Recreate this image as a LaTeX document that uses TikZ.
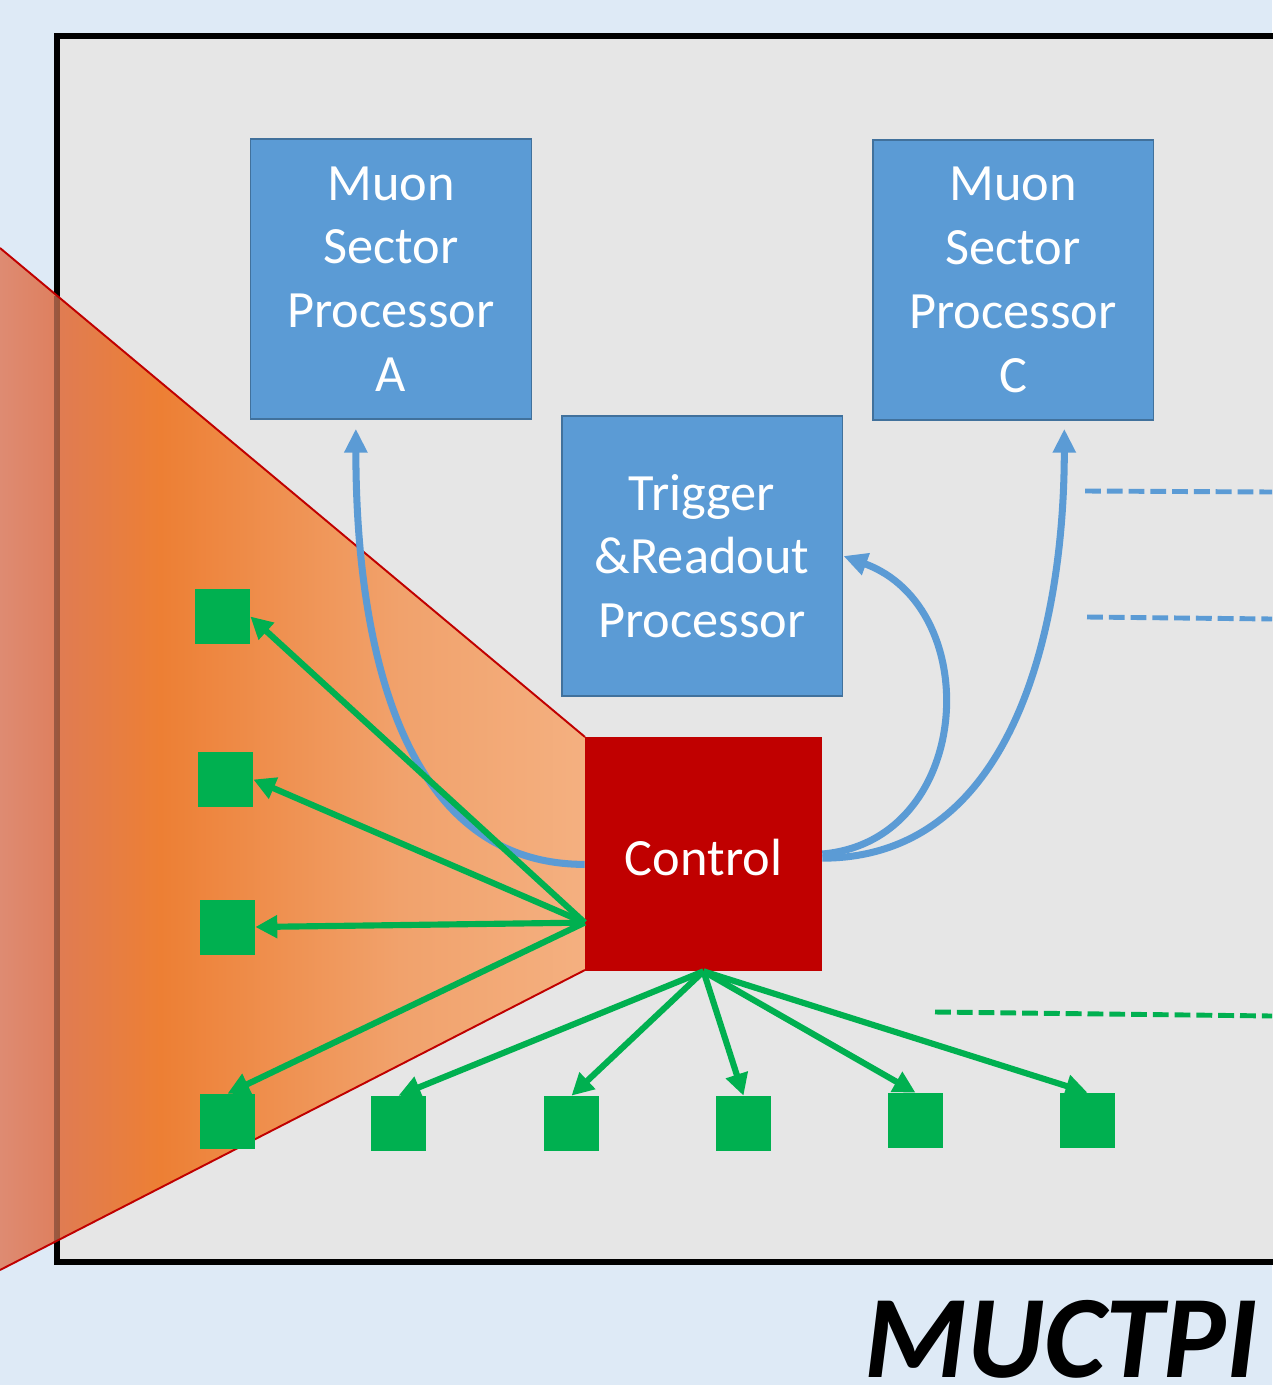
\documentclass[tikz,border=0pt]{standalone}
\usepackage{fontspec}
\setmainfont{Carlito}
\usetikzlibrary{arrows.meta}
\definecolor{bgblue}{RGB}{222,234,246}
\definecolor{framegray}{RGB}{230,230,230}
\definecolor{boxblue}{RGB}{91,155,213}
\definecolor{boxedge}{RGB}{65,113,156}
\definecolor{ctrlred}{RGB}{192,0,0}
\definecolor{linkgreen}{RGB}{0,176,80}
\pgfdeclarehorizontalshading{wedgeshade}{100bp}{rgb(0bp)=(.871,.545,.447); rgb(25bp)=(.871,.545,.447); rgb(29.7bp)=(.871,.502,.373); rgb(30.1bp)=(.878,.486,.322); rgb(38.7bp)=(.929,.498,.204); rgb(59.2bp)=(.945,.635,.424); rgb(75bp)=(.957,.69,.502); rgb(100bp)=(.957,.69,.502)}

\begin{document}
\begin{tikzpicture}[x=0.02cm,y=-0.02cm,
    box/.style={draw=boxedge,line width=1.1pt,fill=boxblue,text=white,align=center,
        minimum width=5.62cm,minimum height=5.6cm,inner sep=0pt,
        font=\fontsize{29.8}{36.3}\selectfont},
    sq/.style={fill=linkgreen,minimum size=1.1cm,inner sep=0pt},
    blink/.style={draw=boxblue,line width=4pt,-{Triangle[length=13.6pt,width=12.5pt]}},
    glink/.style={draw=linkgreen,line width=3.5pt,-{Triangle[length=12.5pt,width=12.5pt]}},
    bdash/.style={draw=boxblue,line width=2.8pt,dash pattern=on 9pt off 3.4pt},
    gdash/.style={draw=linkgreen,line width=2.8pt,dash pattern=on 9pt off 3.4pt}]
    \useasboundingbox (0,0) rectangle (1272,1385);
    \fill[bgblue] (0,0) rectangle (1272,1385);
    \draw[line width=3.4pt,fill=framegray] (57,36) rectangle (1300,1262);
    % sector wedge
    \shade[shading=wedgeshade] (0,248) -- (585,737) -- (585,970) -- (0,1270) -- cycle;
    \draw[black,opacity=.3,line width=3.4pt] (57,296) -- (57,1241);
    \draw[ctrlred,line width=1.1pt] (0,248) -- (585,737);
    \draw[ctrlred,line width=1.1pt] (585,970) -- (0,1270);
    \node[box] (MA) at (391,279) {Muon\\Sector\\Processor\\A};
    \node[box] (MC) at (1013,280) {Muon\\Sector\\Processor\\C};
    \node[box] (TR) at (702,556) {Trigger\\\&Readout\\Processor};
    \node[fill=ctrlred,text=white,minimum width=4.74cm,minimum height=4.68cm,inner sep=0pt,
        text height=25pt,text depth=0pt,
        font=\fontsize{29.8}{36.3}\selectfont] (CT) at (703.5,854) {Control};
    \node[sq] (L1) at (222.5,616.5) {};
    \node[sq] (L2) at (225.5,779.5) {};
    \node[sq] (L3) at (227.5,927) {};
    \node[sq] (L4) at (227.5,1121.5) {};
    \node[sq] (B1) at (398.5,1123.5) {};
    \node[sq] (B2) at (571.5,1123.5) {};
    \node[sq] (B3) at (743.5,1123.5) {};
    \node[sq] (B4) at (915.5,1120.5) {};
    \node[sq] (B5) at (1087.5,1120.5) {};
    \coordinate (d1a) at (1085,491);
    \coordinate (d1b) at (1272,492);
    \coordinate (d2a) at (1087,617);
    \coordinate (d2b) at (1272,619);
    \coordinate (d3a) at (935,1012);
    \coordinate (d3b) at (1272,1016);
    \draw[blink,shorten >=5pt] (CT.185) to[out=180,in=-90] (MA.-104);
    \draw[blink] (CT.east) to[out=5,in=-20,looseness=1.3] (TR.east);
    \draw[blink,shorten >=4.5pt] (CT.-2) to[out=0,in=-90] (MC.-70);
    \draw[glink] (CT.-150) -- (L1.east);
    \draw[glink] (CT.-150) -- (L2.east);
    \draw[glink] (CT.-150) -- (L3.east);
    \draw[glink] (CT.-150) -- (L4.north);
    \draw[glink] (CT.south) -- (B1.north);
    \draw[glink] (CT.south) -- (B2.north);
    \draw[glink] (CT.south) -- (B3.north);
    \draw[glink] (CT.south) -- (B4.north);
    \draw[glink] (CT.south) -- (B5.north);
    \draw[bdash] (d1a) -- (d1b);
    \draw[bdash] (d2a) -- (d2b);
    \draw[gdash] (d3a) -- (d3b);
    \node[anchor=base east,inner sep=0pt,outer sep=0pt,font=\fontsize{67}{70}\selectfont\bfseries\itshape] (MU) at (1258,1377) {MUCTPI};
\end{tikzpicture}
\end{document}
